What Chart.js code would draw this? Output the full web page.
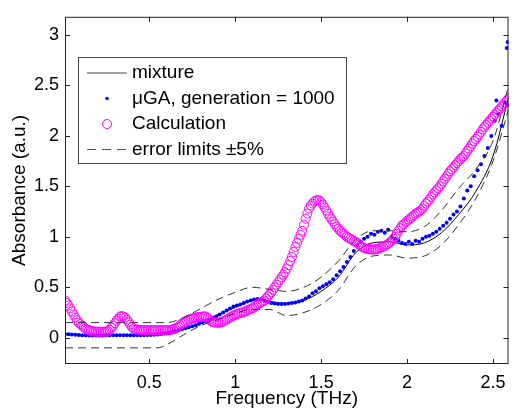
<!DOCTYPE html>
<html>
<head>
<meta charset="utf-8">
<script src="https://cdn.jsdelivr.net/npm/chart.js@4.4.0/dist/chart.umd.min.js"></script>
<style>
  html, body { margin: 0; padding: 0; background: #fff; }
  canvas { display: block; }
</style>
</head>
<body>
<canvas id="chart" width="514" height="410"></canvas>
<script>
// axis ticks
const freqTicks = [0.5, 1, 1.5, 2, 2.5];
const absTicks = [0, 0.5, 1, 1.5, 2, 2.5, 3];

// mixture (solid line)
const mixFreq = [0.01, 0.2, 0.4, 0.55, 0.6, 0.7, 0.8, 0.9, 1.0, 1.1, 1.15, 1.2, 1.3, 1.4, 1.5, 1.6, 1.7, 1.8, 1.9, 2.0, 2.1, 2.2, 2.3, 2.4, 2.5, 2.59];
const mixAbs = [0.035, 0.025, 0.025, 0.03, 0.04, 0.08, 0.15, 0.23, 0.3, 0.37, 0.38, 0.36, 0.34, 0.37, 0.46, 0.6, 0.84, 0.94, 0.95, 0.92, 0.94, 1.04, 1.22, 1.45, 1.8, 2.38];

// error limits (dashed)
const upperFreq = [0.01, 0.6, 0.7, 0.8, 0.9, 1.0, 1.1, 1.2, 1.3, 1.4, 1.5, 1.6, 1.7, 1.8, 1.9, 2.0, 2.1, 2.2, 2.3, 2.4, 2.5, 2.59];
const upperAbs = [0.15, 0.15, 0.2, 0.29, 0.38, 0.45, 0.5, 0.48, 0.46, 0.5, 0.6, 0.76, 0.97, 1.06, 1.06, 1.05, 1.1, 1.26, 1.48, 1.67, 1.95, 2.49];
const lowerFreq = [0.01, 0.55, 0.6, 0.7, 0.8, 0.9, 1.0, 1.1, 1.2, 1.3, 1.4, 1.5, 1.6, 1.7, 1.8, 1.9, 2.0, 2.1, 2.2, 2.3, 2.4, 2.5, 2.59];
const lowerAbs = [-0.1, -0.1, -0.07, 0.03, 0.12, 0.18, 0.24, 0.28, 0.28, 0.22, 0.25, 0.33, 0.47, 0.71, 0.81, 0.82, 0.79, 0.81, 0.92, 1.12, 1.38, 1.75, 2.26];

// calculation, one value every 0.01 THz from 0.01 THz
const calcAbs = [
  0.37, 0.345, 0.32, 0.29, 0.26, 0.23, 0.20, 0.175, 0.15, 0.135,
  0.12, 0.105, 0.09, 0.08, 0.075, 0.07, 0.065, 0.062, 0.06, 0.06,
  0.06, 0.06, 0.06, 0.06, 0.06, 0.068, 0.08, 0.10, 0.12, 0.145,
  0.17, 0.19, 0.21, 0.215, 0.21, 0.20, 0.18, 0.155, 0.13, 0.105,
  0.09, 0.085, 0.08, 0.077, 0.075, 0.075, 0.075, 0.075, 0.075, 0.075,
  0.075, 0.075, 0.075, 0.075, 0.075, 0.075, 0.075, 0.075, 0.075, 0.075,
  0.075, 0.075, 0.08, 0.085, 0.09, 0.10, 0.11, 0.125, 0.14, 0.15,
  0.16, 0.17, 0.18, 0.185, 0.19, 0.195, 0.20, 0.203, 0.205, 0.208,
  0.21, 0.212, 0.21, 0.195, 0.18, 0.165, 0.155, 0.152, 0.15, 0.15,
  0.15, 0.155, 0.16, 0.17, 0.18, 0.19, 0.20, 0.21, 0.22, 0.228,
  0.235, 0.24, 0.245, 0.25, 0.255, 0.262, 0.27, 0.278, 0.285, 0.292,
  0.30, 0.315, 0.33, 0.34, 0.35, 0.36, 0.37, 0.39, 0.41, 0.43,
  0.45, 0.475, 0.50, 0.525, 0.55, 0.575, 0.60, 0.625, 0.65, 0.685,
  0.72, 0.76, 0.80, 0.85, 0.90, 0.94, 0.98, 1.02, 1.06, 1.12,
  1.18, 1.23, 1.28, 1.31, 1.33, 1.35, 1.36, 1.365, 1.36, 1.345,
  1.32, 1.29, 1.26, 1.23, 1.20, 1.175, 1.15, 1.125, 1.10, 1.08,
  1.06, 1.045, 1.03, 1.015, 1.00, 0.99, 0.98, 0.97, 0.96, 0.95,
  0.94, 0.925, 0.91, 0.90, 0.89, 0.885, 0.88, 0.877, 0.875, 0.874,
  0.875, 0.877, 0.88, 0.887, 0.895, 0.902, 0.91, 0.92, 0.93, 0.945,
  0.96, 0.98, 1.00, 1.03, 1.06, 1.085, 1.11, 1.125, 1.14, 1.155,
  1.17, 1.185, 1.20, 1.215, 1.23, 1.24, 1.25, 1.265, 1.28, 1.305,
  1.33, 1.35, 1.37, 1.395, 1.42, 1.44, 1.46, 1.48, 1.50, 1.525,
  1.55, 1.575, 1.60, 1.625, 1.65, 1.67, 1.69, 1.71, 1.73, 1.75,
  1.77, 1.785, 1.80, 1.825, 1.85, 1.875, 1.90, 1.925, 1.95, 1.97,
  1.99, 2.015, 2.04, 2.065, 2.09, 2.11, 2.13, 2.15, 2.17, 2.19,
  2.21, 2.23, 2.25, 2.27, 2.29, 2.31, 2.33, 2.35, 2.37
];

// μGA result, one value every 0.02 THz from 0.01 THz
const gaAbs = [
  0.035, 0.034, 0.032, 0.03, 0.028, 0.026, 0.024, 0.022, 0.022, 0.022,
  0.022, 0.023, 0.024, 0.025, 0.026, 0.026, 0.026, 0.025, 0.024, 0.024,
  0.024, 0.024, 0.025, 0.026, 0.027, 0.028, 0.03, 0.033, 0.037, 0.042,
  0.05, 0.058, 0.066, 0.075, 0.085, 0.095, 0.105, 0.115, 0.125, 0.14,
  0.15, 0.16, 0.17, 0.19, 0.21, 0.23, 0.25, 0.27, 0.29, 0.31,
  0.32, 0.33, 0.345, 0.36, 0.37, 0.38, 0.385, 0.38, 0.37, 0.355,
  0.345, 0.34, 0.335, 0.335, 0.335, 0.34, 0.345, 0.35, 0.36, 0.37,
  0.39, 0.41, 0.44, 0.46, 0.49, 0.51, 0.53, 0.55, 0.58, 0.62,
  0.66, 0.70, 0.75, 0.80, 0.86, 0.92, 0.95, 0.98, 1.00, 1.03,
  1.02, 1.05, 1.06, 1.04, 1.07, 1.00, 0.98, 0.96, 0.94, 0.93,
  0.95, 0.93, 0.96, 0.95, 0.98, 1.00, 1.01, 1.03, 1.05, 1.08,
  1.11, 1.14, 1.18, 1.22, 1.25, 1.30, 1.38, 1.46, 1.50, 1.60,
  1.66, 1.72, 1.80, 1.88, 2.00, 2.15, 2.22, 2.10, 2.33, 2.30
];
// stray μGA points near the top right
const gaExtraFreq = [2.52, 2.58, 2.585];
const gaExtraAbs = [2.35, 2.87, 2.93];

const calcFreq = calcAbs.map((_, i) => +(0.01 + 0.01 * i).toFixed(2));
const gaFreq = gaAbs.map((_, i) => +(0.01 + 0.02 * i).toFixed(2));
const toPoints = (xs, ys) => xs.map((x, i) => ({ x: x, y: ys[i] }));

const FONT = 'Liberation Sans, Arial, Helvetica, sans-serif';

// MATLAB-like box, inward ticks and boxed legend
const matlabAxes = {
  id: 'matlabAxes',
  afterDraw(chart) {
    const ctx = chart.ctx;
    const a = chart.chartArea;
    const xs = chart.scales.x, ys = chart.scales.y;
    ctx.save();
    ctx.strokeStyle = '#222';
    ctx.lineWidth = 1;
    ctx.strokeRect(a.left + 0.5, a.top + 0.5, a.right - a.left - 1, a.bottom - a.top - 1);
    ctx.beginPath();
    freqTicks.forEach(v => {
      const px = Math.round(xs.getPixelForValue(v)) + 0.5;
      ctx.moveTo(px, a.bottom); ctx.lineTo(px, a.bottom - 5);
      ctx.moveTo(px, a.top); ctx.lineTo(px, a.top + 5);
    });
    absTicks.forEach(v => {
      const py = Math.round(ys.getPixelForValue(v)) + 0.5;
      ctx.moveTo(a.left, py); ctx.lineTo(a.left + 5, py);
      ctx.moveTo(a.right, py); ctx.lineTo(a.right - 5, py);
    });
    ctx.stroke();

    // legend
    const lx = 78.5, ly = 57.5, lw = 268, lh = 106;
    ctx.fillStyle = '#fff';
    ctx.fillRect(lx, ly, lw, lh);
    ctx.strokeStyle = '#444';
    ctx.strokeRect(lx, ly, lw, lh);
    const rows = [73, 98.5, 124, 149.5];
    ctx.strokeStyle = '#444';
    ctx.beginPath();
    ctx.moveTo(87, rows[0]); ctx.lineTo(127, rows[0]);
    ctx.stroke();
    ctx.fillStyle = '#0000ff';
    ctx.beginPath();
    ctx.arc(107, rows[1], 1.8, 0, Math.PI * 2);
    ctx.fill();
    ctx.strokeStyle = '#ff00ff';
    ctx.beginPath();
    ctx.arc(107, rows[2], 4.5, 0, Math.PI * 2);
    ctx.stroke();
    ctx.strokeStyle = '#555';
    ctx.setLineDash([9, 6]);
    ctx.beginPath();
    ctx.moveTo(87, rows[3]); ctx.lineTo(128, rows[3]);
    ctx.stroke();
    ctx.setLineDash([]);
    ctx.fillStyle = '#000';
    ctx.font = '19px ' + FONT;
    ctx.textBaseline = 'middle';
    const labels = ['mixture', 'μGA, generation = 1000', 'Calculation', 'error limits ±5%'];
    labels.forEach((t, i) => ctx.fillText(t, 132, rows[i]));
    ctx.restore();
  }
};

new Chart(document.getElementById('chart'), {
  type: 'scatter',
  data: {
    datasets: [
      {
        label: 'error limits upper',
        data: toPoints(upperFreq, upperAbs),
        showLine: true, borderColor: '#333', borderWidth: 1, borderDash: [8, 5],
        pointRadius: 0, cubicInterpolationMode: 'monotone', order: 1
      },
      {
        label: 'error limits lower',
        data: toPoints(lowerFreq, lowerAbs),
        showLine: true, borderColor: '#333', borderWidth: 1, borderDash: [8, 5],
        pointRadius: 0, cubicInterpolationMode: 'monotone', order: 1
      },
      {
        label: 'Calculation',
        data: toPoints(calcFreq, calcAbs),
        pointRadius: 4.5, pointBorderWidth: 1,
        pointBorderColor: '#ff00ff', pointBackgroundColor: 'rgba(0,0,0,0)', order: 2
      },
      {
        label: 'μGA, generation = 1000',
        data: toPoints(gaFreq.concat(gaExtraFreq), gaAbs.concat(gaExtraAbs)),
        pointRadius: 2, pointBorderWidth: 0,
        pointBackgroundColor: '#0000ff', order: 3
      },
      {
        label: 'mixture',
        data: toPoints(mixFreq, mixAbs),
        showLine: true, borderColor: '#000', borderWidth: 1,
        pointRadius: 0, cubicInterpolationMode: 'monotone', order: 4
      }
    ]
  },
  options: {
    responsive: false,
    animation: false,
    events: [],
    layout: { padding: { top: 11, right: 2, left: 0, bottom: 0 } },
    plugins: { legend: { display: false }, tooltip: { enabled: false } },
    scales: {
      x: {
        type: 'linear',
        min: 0.01, max: 2.59,
        afterBuildTicks: s => { s.ticks = freqTicks.map(v => ({ value: v })); },
        afterFit: s => { s.height = 46; },
        grid: { display: false, drawTicks: false },
        border: { display: false },
        ticks: { color: '#000', font: { family: FONT, size: 18 }, padding: 8, maxRotation: 0, callback: v => String(v) },
        title: { display: true, text: 'Frequency (THz)', color: '#000', font: { family: FONT, size: 19 }, padding: { top: 0, bottom: 0 } }
      },
      y: {
        min: -0.26, max: 3.18,
        afterBuildTicks: s => { s.ticks = absTicks.map(v => ({ value: v })); },
        afterFit: s => { s.width = 65; },
        grid: { display: false, drawTicks: false },
        border: { display: false },
        ticks: { color: '#000', font: { family: FONT, size: 18 }, padding: 6, callback: v => String(v) },
        title: { display: true, text: 'Absorbance (a.u.)', color: '#000', font: { family: FONT, size: 19 }, padding: { top: 8, bottom: 0 } }
      }
    }
  },
  plugins: [matlabAxes]
});
</script>
</body>
</html>
